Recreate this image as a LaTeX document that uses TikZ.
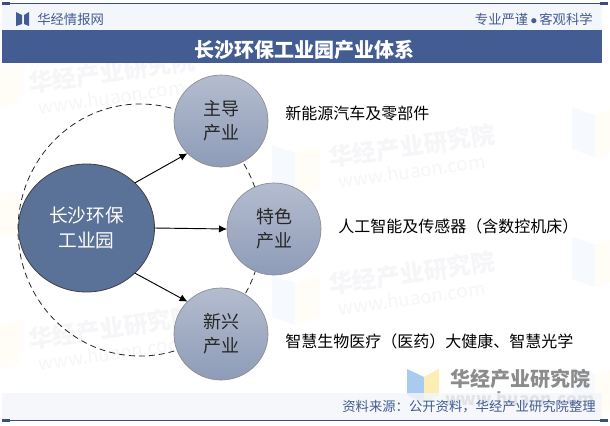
\documentclass[tikz,border=0pt]{standalone}
\usepackage{fontspec}
\setmainfont{Noto Sans CJK SC}
\usetikzlibrary{arrows.meta,shapes.geometric}
\definecolor{barblue}{HTML}{435C91}
\definecolor{linkblue}{HTML}{3A4E80}
\definecolor{bandbg}{HTML}{F3F6FB}
\definecolor{maindark}{HTML}{5A7198}
\definecolor{lighttop}{HTML}{B4BCCF}
\definecolor{lightbot}{HTML}{8E9CB8}
\definecolor{wmgrey}{HTML}{F6F6F8}
\definecolor{wmlogoa}{HTML}{A9CBF0}
\definecolor{wmlogob}{HTML}{FBEDB4}
\definecolor{faintblue}{HTML}{F6F9FD}
\definecolor{faintyellow}{HTML}{FFFDF6}
\tikzset{
 x=0.75pt,y=-0.75pt,
 hub/.style={ellipse,draw=black!75,line width=0.6pt,fill=maindark,minimum width=102pt,minimum height=96pt,inner sep=0pt,outer sep=0pt,align=center,text=white,font=\fontsize{14}{18.5}\selectfont},
 sat/.style={ellipse,draw=black!45,line width=0.5pt,top color=lighttop,bottom color=lightbot,minimum width=70.5pt,minimum height=69pt,inner sep=0pt,outer sep=0pt,align=center,text=black!85,font=\fontsize{13.5}{18}\selectfont},
 labeltext/.style={anchor=west,font=\fontsize{12}{14}\selectfont,text=black,inner sep=0pt},
 flow/.style={-{Latex[length=6pt,width=5.5pt]},line width=0.7pt,black,shorten >=0pt},
 wm/.style={font=\bfseries\fontsize{18}{20}\selectfont,text=wmgrey,rotate=8,inner sep=0pt},
 wmb/.style={font=\fontsize{14}{15}\selectfont,text=wmgrey,rotate=8,inner sep=0pt},
}
\begin{document}
\begin{tikzpicture}
\useasboundingbox (0,0) rectangle (610,425);
\fill[white] (0,0) rectangle (610,425);
% faint background logos
\foreach \lx/\ly in {272/145,272/275,572/107,572/237,572/367,-28/60,-28/190,-28/320}{
 \fill[faintblue] (\lx,\ly) -- (\lx+23,\ly+8) -- (\lx+23,\ly+50) -- (\lx,\ly+42) -- cycle;
 \fill[faintyellow] (\lx+47,\ly) -- (\lx+23,\ly+8) -- (\lx+23,\ly+50) -- (\lx+47,\ly+42) -- cycle;
}
% watermarks
\foreach \wx/\wy in {112/72,412/146,412/273,112/328}{
 \node[wm] at (\wx,\wy) {华经产业研究院};
 \node[wmb] at (\wx,\wy+25) {www.huaon.com};
}
% logo lockup, under the footer band
\fill[wmlogoa] (407,369) -- (424,377) -- (424,403) -- (407,395) -- cycle;
\fill[wmlogob] (439,369) -- (424,377) -- (424,403) -- (439,395) -- cycle;
\node[inner sep=0pt,text=black!45,font=\bfseries\fontsize{15}{16}\selectfont] (wmname) at (520,379) {华经产业研究院};
\node[inner sep=0pt,text=black!40,font=\bfseries\fontsize{13}{15}\selectfont] (wmurl) at (520,399) {www.huaon.com};
% bands
\fill[bandbg] (2,4) rectangle (602,30);
\fill[bandbg,opacity=0.8] (2,393) rectangle (602,420);
\draw[linkblue,line width=0.7pt] (2,3.5) -- (602,3.5);
\draw[linkblue,line width=0.7pt] (2,420) -- (602,420);
\fill[linkblue] (2,2) rectangle (10,5);
\fill[linkblue] (600,2) rectangle (608,5);
\fill[linkblue] (2,419) rectangle (10,422);
\fill[linkblue] (600,419) rectangle (608,422);
\fill[barblue] (2,30) rectangle (602,63);
% header
\fill[barblue] (16,12) -- (22,15) -- (22,24) -- (16,26) -- cycle;
\fill[barblue] (29,12) -- (24,15) -- (24,24) -- (29,26) -- cycle;
\node[anchor=west,inner sep=0pt,text=barblue,font=\fontsize{10}{11}\selectfont] (brand) at (37,19.5) {华经情报网};
\node[anchor=east,inner sep=0pt,text=barblue,font=\fontsize{10}{11}\selectfont] (motto) at (593,19) {专业严谨\,$\bullet$\,客观科学};
\node[text=white,font=\bfseries\fontsize{15}{16}\selectfont,inner sep=0pt] (title) at (304,49.5) {长沙环保工业园产业体系};
% dashed ring
\draw[black!85,dashed,dash pattern=on 4.5pt off 3pt,line width=0.6pt] (140,230) ellipse [x radius=122,y radius=126];
% circles
\node[hub] (main) at (86.5,228) {长沙环保\\工业园};
\node[sat] (lead) at (221,121) {主导\\产业};
\node[sat] (spec) at (274,229) {特色\\产业};
\node[sat] (new) at (221,334) {新兴\\产业};
% connectors
\draw[flow] (main.43.5) -- (lead.224);
\draw[flow] (main.0) -- (spec.180);
\draw[flow] (main.-43.5) -- (new.136);
% labels
\node[labeltext] (la) at (285,113) {新能源汽车及零部件};
\node[labeltext] (lb) at (338,226) {人工智能及传感器（含数控机床）};
\node[labeltext] (lc) at (285,341) {智慧生物医疗（医药）大健康、智慧光学};
% footer text
\node[anchor=east,inner sep=0pt,text=barblue,font=\fontsize{10}{11}\selectfont] (src) at (596,407) {资料来源：公开资料，华经产业研究院整理};
\end{tikzpicture}
\end{document}
